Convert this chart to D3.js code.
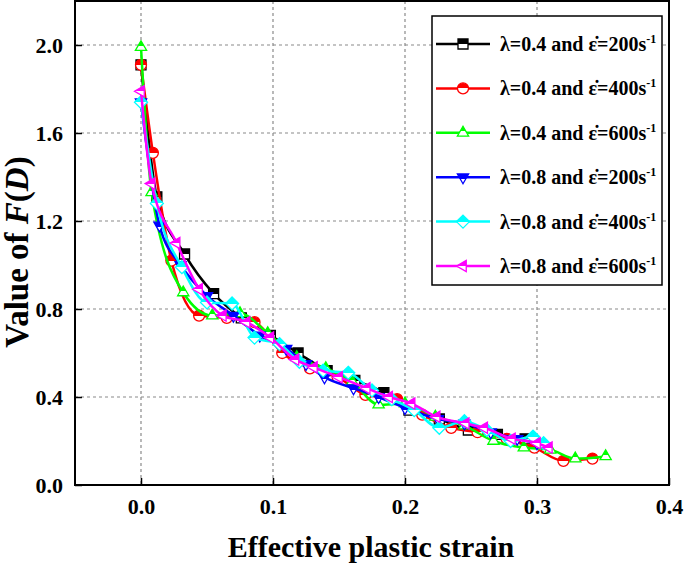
<!DOCTYPE html>
<html><head><meta charset="utf-8">
<script src="https://cdn.jsdelivr.net/npm/d3@7"></script>
<style>body{margin:0;background:#fff}svg{display:block}</style>
</head><body>
<script>
const xTicks = [0.0, 0.1, 0.2, 0.3, 0.4];
const yTicks = [0.0, 0.4, 0.8, 1.2, 1.6, 2.0];
const seriesNames = ["λ=0.4 and ", "λ=0.4 and ", "λ=0.4 and ", "λ=0.8 and ", "λ=0.8 and ", "λ=0.8 and "];
const rates = ["200", "400", "600", "200", "400", "600"];
const colors = ["#000000", "#ff0000", "#00ff00", "#0000ff", "#00ffff", "#ff00ff"];
const shapes = ["square", "circle", "triUp", "triDown", "diamond", "triLeft"];

const strainA = [0, 0.012, 0.033, 0.055, 0.076, 0.098, 0.119, 0.141, 0.162, 0.184, 0.203, 0.226, 0.248, 0.27, 0.291];
const fdA     = [1.91, 1.31, 1.05, 0.87, 0.76, 0.68, 0.60, 0.52, 0.475, 0.42, 0.34, 0.30, 0.25, 0.23, 0.21];
const strainB = [0, 0.009, 0.023, 0.044, 0.065, 0.086, 0.107, 0.128, 0.149, 0.17, 0.194, 0.213, 0.235, 0.255, 0.277, 0.298, 0.32, 0.342];
const fdB     = [1.91, 1.51, 1.02, 0.77, 0.76, 0.74, 0.60, 0.53, 0.49, 0.41, 0.39, 0.32, 0.26, 0.24, 0.21, 0.17, 0.11, 0.12];
const strainC = [0, 0.008, 0.032, 0.054, 0.075, 0.096, 0.118, 0.14, 0.16, 0.18, 0.2, 0.223, 0.245, 0.267, 0.29, 0.31, 0.329, 0.352];
const fdC     = [1.99, 1.33, 0.875, 0.77, 0.78, 0.69, 0.58, 0.53, 0.47, 0.365, 0.37, 0.31, 0.27, 0.20, 0.17, 0.16, 0.12, 0.13];
const strainD = [0, 0.014, 0.03, 0.05, 0.07, 0.09, 0.11, 0.125, 0.139, 0.161, 0.18, 0.2, 0.225, 0.245, 0.265, 0.285, 0.3];
const fdD     = [1.74, 1.18, 1.0, 0.86, 0.77, 0.68, 0.62, 0.55, 0.49, 0.44, 0.40, 0.35, 0.30, 0.28, 0.24, 0.21, 0.19];
const strainE = [0, 0.012, 0.031, 0.05, 0.069, 0.086, 0.105, 0.12, 0.138, 0.157, 0.175, 0.19, 0.207, 0.226, 0.245, 0.262, 0.28, 0.297, 0.305];
const fdE     = [1.74, 1.28, 0.99, 0.83, 0.825, 0.67, 0.64, 0.56, 0.52, 0.51, 0.43, 0.39, 0.34, 0.26, 0.29, 0.25, 0.20, 0.22, 0.19];
const strainF = [0, 0.008, 0.027, 0.044, 0.062, 0.08, 0.098, 0.117, 0.131, 0.15, 0.171, 0.188, 0.205, 0.224, 0.246, 0.26, 0.281, 0.3, 0.309];
const fdF     = [1.79, 1.37, 1.10, 0.89, 0.77, 0.74, 0.67, 0.57, 0.535, 0.49, 0.44, 0.40, 0.37, 0.31, 0.28, 0.26, 0.21, 0.19, 0.17];

const strains = [strainA, strainB, strainC, strainD, strainE, strainF];
const fds = [fdA, fdB, fdC, fdD, fdE, fdF];

const W = 685, H = 569;
const L = 75, R = 669, T = 1, B = 485;
const svg = d3.select("body").append("svg").attr("width", W).attr("height", H);
const x = d3.scaleLinear().domain([-0.05, 0.4]).range([L, R]);
const y = d3.scaleLinear().domain([0, 2.2]).range([B, T]);
const font = "'Liberation Serif','Times New Roman',serif";

// gradients for half-filled markers
const defs = svg.append("defs");
colors.forEach((c, i) => {
  const g = defs.append("linearGradient").attr("id", "g" + i)
    .attr("x1", 0).attr("y1", 0).attr("x2", 0).attr("y2", 1);
  g.append("stop").attr("offset", "0").attr("stop-color", c);
  g.append("stop").attr("offset", "0.5").attr("stop-color", c);
  g.append("stop").attr("offset", "0.5").attr("stop-color", "#fff");
  g.append("stop").attr("offset", "1").attr("stop-color", "#fff");
});

function markerPath(s) {
  const r = 5.5;
  switch (s) {
    case "square": return `M${-r+0.5},${-r+0.5}H${r-0.5}V${r-0.5}H${-r+0.5}Z`;
    case "circle": return `M${r},0A${r},${r} 0 1,1 ${-r},0A${r},${r} 0 1,1 ${r},0Z`;
    case "triUp": { const q = 6.5; return `M0,${-q}L${q*0.866},${q*0.5}L${-q*0.866},${q*0.5}Z`; }
    case "triDown": { const q = 6.5; return `M0,${q}L${q*0.866},${-q*0.5}L${-q*0.866},${-q*0.5}Z`; }
    case "diamond": { const q = 6.5; return `M0,${-q}L${q},0L0,${q}L${-q},0Z`; }
    case "triLeft": { const q = 6.5; return `M${-q},0L${q*0.5},${-q*0.866}L${q*0.5},${q*0.866}Z`; }
  }
}

// grid
const grid = svg.append("g").attr("stroke", "#8a8a8a").attr("stroke-width", 1.2).attr("stroke-dasharray", "3,3");
xTicks.slice(0, 4).forEach(t => grid.append("line").attr("x1", x(t)).attr("x2", x(t)).attr("y1", T).attr("y2", B));
yTicks.slice(1).forEach(t => grid.append("line").attr("x1", L).attr("x2", R).attr("y1", y(t)).attr("y2", y(t)));

// axes
const xAxis = d3.axisBottom(x).tickValues(xTicks).tickFormat(d3.format(".1f")).tickSizeInner(-7).tickSizeOuter(0).tickPadding(13);
const gx = svg.append("g").attr("transform", `translate(0,${B})`).call(xAxis);
const yAxis = d3.axisLeft(y).tickValues(yTicks).tickFormat(d3.format(".1f")).tickSizeInner(-7).tickSizeOuter(0).tickPadding(12);
const gy = svg.append("g").attr("transform", `translate(${L},0)`).call(yAxis);
[gx, gy].forEach(g => {
  g.select(".domain").remove();
  g.selectAll(".tick line").attr("stroke", "#000").attr("stroke-width", 1.5);
  g.selectAll(".tick text").attr("font-family", font).attr("font-weight", "bold").attr("font-size", 22).attr("fill", "#000");
});
gx.selectAll(".tick text").attr("dy", "0.71em");

// frame
svg.append("rect").attr("x", L).attr("y", T).attr("width", R - L).attr("height", B - T)
  .attr("fill", "none").attr("stroke", "#000").attr("stroke-width", 2);

// series
const line = d3.line().x(d => x(d[0])).y(d => y(d[1])).curve(d3.curveMonotoneX);
strains.forEach((xs, i) => {
  const pts = xs.map((v, j) => [v, fds[i][j]]);
  const g = svg.append("g");
  g.append("path").attr("d", line(pts)).attr("fill", "none").attr("stroke", colors[i]).attr("stroke-width", 2.5);
  g.selectAll("path.m").data(pts).join("path").attr("class", "m")
    .attr("transform", d => `translate(${x(d[0])},${y(d[1])})`)
    .attr("d", markerPath(shapes[i])).attr("fill", `url(#g${i})`).attr("stroke", colors[i]).attr("stroke-width", 1.3);
});

// legend
const lg = svg.append("g");
lg.append("rect").attr("x", 432).attr("y", 16).attr("width", 230).attr("height", 269)
  .attr("fill", "#fff").attr("stroke", "#000").attr("stroke-width", 1.5);
colors.forEach((c, i) => {
  const yy = 44 + i * 44.4;
  lg.append("line").attr("x1", 436).attr("x2", 490).attr("y1", yy).attr("y2", yy).attr("stroke", c).attr("stroke-width", 2.5);
  lg.append("path").attr("transform", `translate(463,${yy})`).attr("d", markerPath(shapes[i]))
    .attr("fill", `url(#g${i})`).attr("stroke", c).attr("stroke-width", 1.3);
  const t = lg.append("text").attr("x", 500).attr("y", yy + 7).attr("font-family", font)
    .attr("font-weight", "bold").attr("font-size", 20).attr("fill", "#000");
  t.append("tspan").text(seriesNames[i]);
  t.append("tspan").text("ε̇");
  t.append("tspan").text("=" + rates[i] + "s");
  t.append("tspan").attr("dy", -8).attr("font-size", 12).text("-1");
});

// axis titles
svg.append("text").attr("x", 371).attr("y", 557).attr("text-anchor", "middle")
  .attr("font-family", font).attr("font-weight", "bold").attr("font-size", 30).text("Effective plastic strain");
const yt = svg.append("text").attr("transform", "translate(28,252) rotate(-90)").attr("text-anchor", "middle")
  .attr("font-family", font).attr("font-weight", "bold").attr("font-size", 33);
yt.append("tspan").text("Value of ");
yt.append("tspan").attr("font-style", "italic").text("F");
yt.append("tspan").text("(");
yt.append("tspan").attr("font-style", "italic").text("D");
yt.append("tspan").text(")");
</script>
</body></html>
